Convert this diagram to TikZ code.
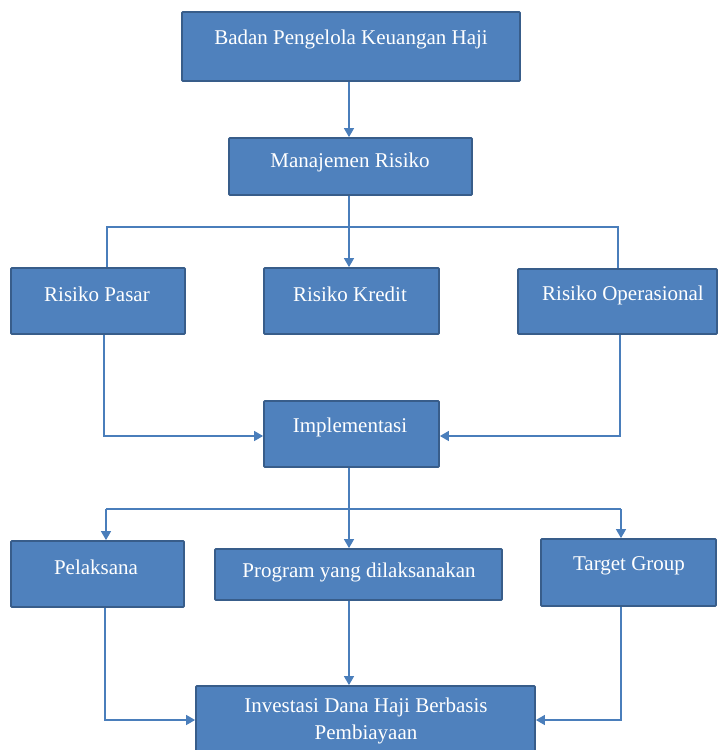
\documentclass[tikz,border=0pt]{standalone}
\usepackage{fontspec}
\setmainfont{Liberation Serif}
\usetikzlibrary{arrows.meta}
\definecolor{boxfill}{HTML}{4F81BD}
\definecolor{boxline}{HTML}{385D8A}
\definecolor{conn}{HTML}{4A7EBB}
\begin{document}
\begin{tikzpicture}[x=1pt,y=-1pt,
  box/.style={draw=boxline, line width=1.8pt, fill=boxfill, rectangle, inner sep=0pt, rounded corners=0.8pt},
  txt/.style={text=white, font=\fontsize{21}{27}\selectfont, inner sep=0pt, align=center},
  link/.style={draw=conn, line width=1.4pt},
  arr/.style={link, -{Triangle[length=9pt,width=10pt]}}
]
\clip (0,0) rectangle (718,750);
% boxes
\node (bpkh) [box, minimum width=338pt, minimum height=69pt] at (351,46.5) {};
\node (mr) [box, minimum width=243pt, minimum height=57pt] at (350.5,166.5) {};
\node (pasar) [box, minimum width=174pt, minimum height=66pt] at (98,301) {};
\node (kredit) [box, minimum width=175pt, minimum height=66pt] at (351.5,301) {};
\node (oper) [box, minimum width=199pt, minimum height=65pt] at (617.5,301.5) {};
\node (impl) [box, minimum width=175pt, minimum height=66pt] at (351.5,434) {};
\node (pel) [box, minimum width=173pt, minimum height=66pt] at (97.5,574) {};
\node (prog) [box, minimum width=287pt, minimum height=51pt] at (358.5,574.5) {};
\node (target) [box, minimum width=175pt, minimum height=67pt] at (628.5,572.5) {};
\node (inv) [box, minimum width=339pt, minimum height=90pt] at (365.5,731) {};
% texts
\node (bpkh-t) [txt] at (351,39) {Badan Pengelola Keuangan Haji};
\node (mr-t) [txt] at (350,162) {Manajemen Risiko};
\node (pasar-t) [txt] at (97,294) {Risiko Pasar};
\node (kredit-t) [txt] at (350,294) {Risiko Kredit};
\node (oper-t) [txt] at (623,295) {Risiko Operasional};
\node (impl-t) [txt] at (350,427) {Implementasi};
\node (pel-t) [txt] at (96,567) {Pelaksana};
\node (prog-t) [txt] at (359,572) {Program yang dilaksanakan};
\node (target-t) [txt] at (629,566) {Target Group};
\node (inv-t) [txt] at (366,721) {Investasi Dana Haji Berbasis\\Pembiayaan};
% connector coordinates
\coordinate (hl) at (107,227);
\coordinate (hr) at (618,227);
\coordinate (pl) at (104,436);
\coordinate (pr) at (620,436);
\coordinate (ql) at (106,509);
\coordinate (qr) at (621,509);
\coordinate (rl) at (105,720);
\coordinate (rr) at (621,720);
% connectors
\draw[arr] (bpkh.south -| 349,0) -- (mr.north -| 349,0);
\draw[arr] (mr.south -| 349,0) -- (kredit.north -| 349,0);
\draw[link] (pasar.north -| hl) -- (hl) -- (hr) -- (oper.north -| hr);
\draw[arr] (pasar.south -| pl) -- (pl) -- (impl.west |- pl);
\draw[arr] (oper.south -| pr) -- (pr) -- (impl.east |- pr);
\draw[arr] (impl.south -| 349,0) -- (prog.north -| 349,0);
\draw[arr] (ql) -- (pel.north -| ql);
\draw[link] (ql) -- (qr);
\draw[arr] (qr) -- (target.north -| qr);
\draw[arr] (prog.south -| 349,0) -- (inv.north -| 349,0);
\draw[arr] (pel.south -| rl) -- (rl) -- (inv.west |- rl);
\draw[arr] (target.south -| rr) -- (rr) -- (inv.east |- rr);
\end{tikzpicture}
\end{document}
